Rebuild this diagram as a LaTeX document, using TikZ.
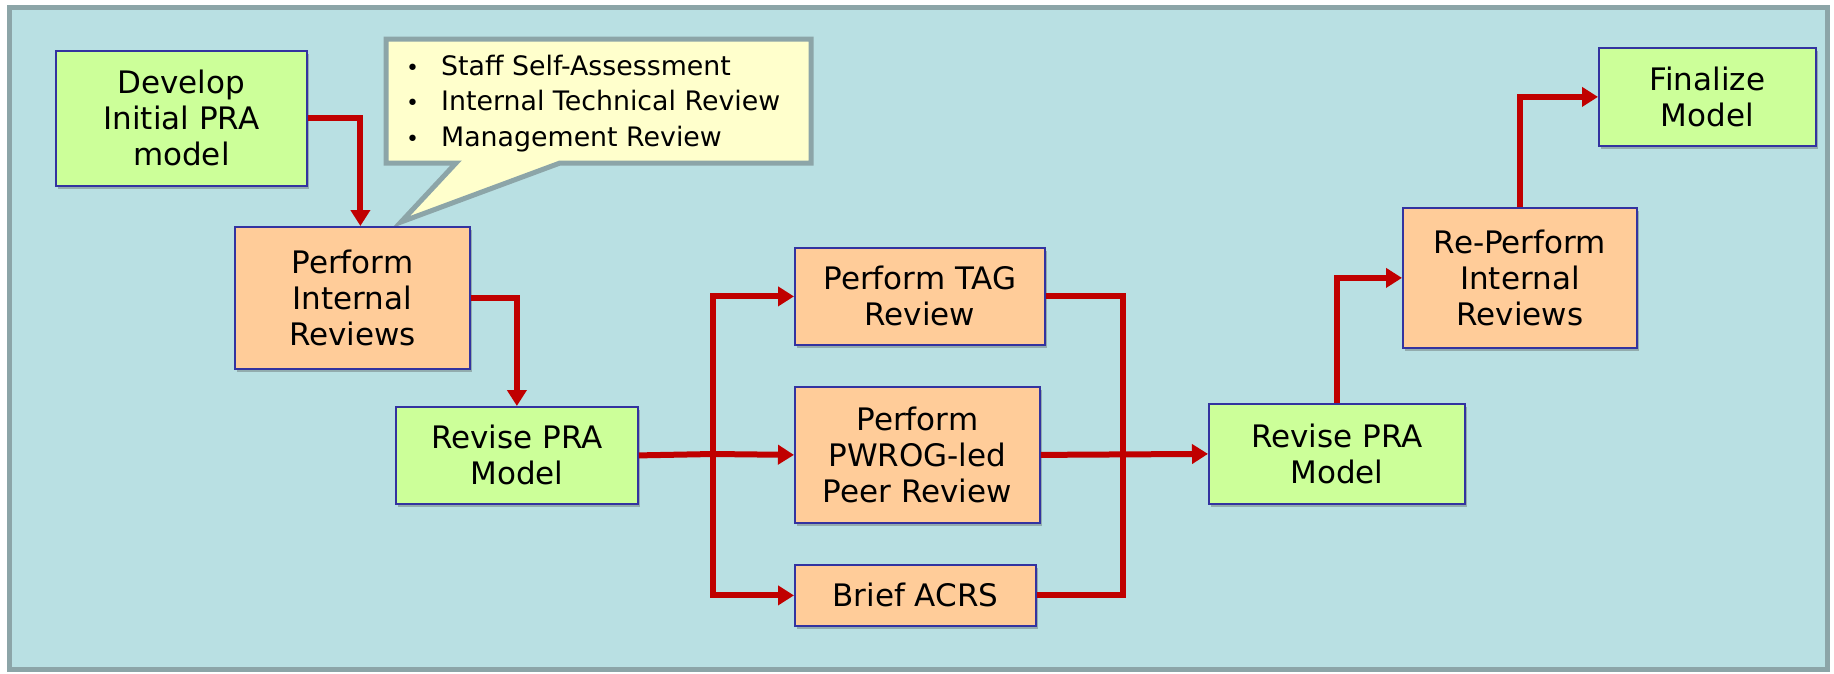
\documentclass[tikz,border=0pt]{standalone}
\usepackage{fontspec}
\setmainfont{DejaVu Sans}
\usepackage{tikz}
\usetikzlibrary{positioning}
\usetikzlibrary{arrows.meta,shadows}
\usepackage{xcolor}
\definecolor{bgblue}{RGB}{185,224,227}
\definecolor{framegray}{RGB}{140,165,168}
\definecolor{boxgreen}{RGB}{204,255,153}
\definecolor{boxorange}{RGB}{255,204,153}
\definecolor{boxline}{RGB}{51,51,160}
\definecolor{flowred}{RGB}{192,0,0}
\definecolor{noteyellow}{RGB}{255,255,204}

\begin{document}
\begin{tikzpicture}[
    x=1pt, y=-1pt,
    box/.style={rectangle, draw=boxline, line width=1.8pt, anchor=north west, inner sep=0pt,
    align=center, font=\fontsize{31}{36}\selectfont,
    drop shadow={shadow xshift=2pt, shadow yshift=-3pt, opacity=0.35, fill=black!70}},
    greenbox/.style={box, fill=boxgreen},
    orangebox/.style={box, fill=boxorange},
    flowline/.style={draw=flowred, line width=6pt},
    flow/.style={flowline, -{Triangle[length=16pt,width=19pt]}}
    ]

\useasboundingbox (0,0) rectangle (1834,673);
\fill[white] (0,0) rectangle (1834,673);
\draw[fill=bgblue, draw=framegray, line width=5pt] (9,7) rectangle (1827,669);

%Callout
\draw[fill=noteyellow, draw=framegray, line width=5pt, line join=miter]
    (386,39) -- (811,39) -- (811,163) -- (560,163) -- (401,222) -- (456,163) -- (386,163) -- cycle;
\node[anchor=north west, inner sep=0pt, align=left, font=\fontsize{26.8}{35.5}\selectfont] (note) at (406,50)
    {\begin{tabular}{@{}l@{\hspace{22pt}}l@{}}
    {\fontsize{22}{22}\selectfont\textbullet} & Staff Self-Assessment\\
    {\fontsize{22}{22}\selectfont\textbullet} & Internal Technical Review\\
    {\fontsize{22}{22}\selectfont\textbullet} & Management Review
    \end{tabular}};

%Left part
\node[greenbox, minimum width=251pt, minimum height=135pt] (develop) at (55,50) {Develop\\Initial PRA\\model};
\node[orangebox, minimum width=235pt, minimum height=142pt] (internal) at (234,226) {Perform\\Internal\\Reviews};
\node[greenbox, minimum width=242pt, minimum height=97pt] (revise) at (395,406) {Revise PRA\\Model};

%Middle part
\node[orangebox, minimum width=250pt, minimum height=97pt] (tag) at (794,247) {Perform TAG\\Review};
\node[orangebox, minimum width=245pt, minimum height=136pt] (pwrog) at (794,386) {Perform\\PWROG-led\\Peer Review};
\node[orangebox, minimum width=241pt, minimum height=61pt] (acrs) at (794,564) {Brief ACRS};

%Right part
\node[greenbox, minimum width=256pt, minimum height=100pt] (revisetwo) at (1208,403) {Revise PRA\\Model};
\node[orangebox, minimum width=234pt, minimum height=140pt] (reinternal) at (1402,207) {Re-Perform\\Internal\\Reviews};
\node[greenbox, minimum width=217pt, minimum height=98pt] (finalize) at (1598,47) {Finalize\\Model};

\coordinate (split) at (713,454);
\coordinate (join) at (1123,451);

\draw[flow] (develop.east) -| ([xshift=8pt]internal.north);
\draw[flow] (internal.east) -| (revise.north);
\draw[flowline] (revise.east) -- (split);
\draw[flow] (split) |- (tag.west);
\draw[flow] (split) -- (pwrog.west);
\draw[flow] (split) |- (acrs.west);
\draw[flowline] (tag.east) -| (join) |- (acrs.east);
\draw[flow] (pwrog.east) -- (revisetwo.west);
\draw[flow] (revisetwo.north) |- (reinternal.west);
\draw[flow] (reinternal.north) |- (finalize.west);
\end{tikzpicture}
\end{document}
